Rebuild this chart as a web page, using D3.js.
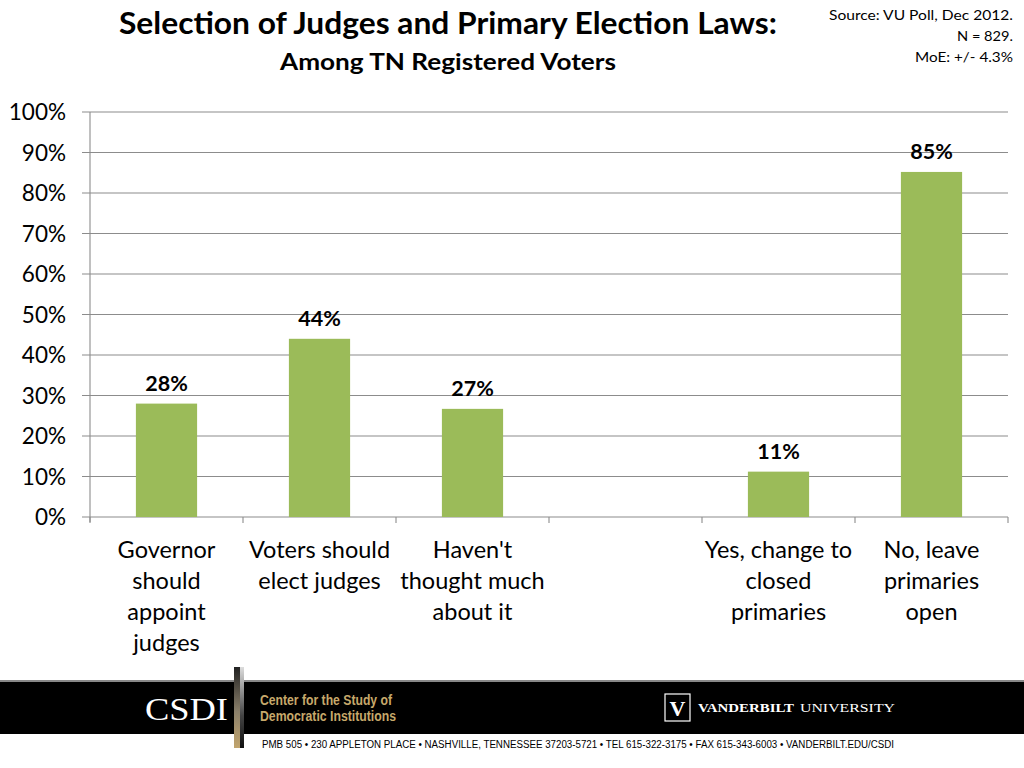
<!DOCTYPE html>
<html><head><meta charset="utf-8">
<script src="https://cdn.jsdelivr.net/npm/d3@7"></script>
<style>body{margin:0;background:#fff}svg{display:block}</style>
</head><body>
<svg id="c" width="1024" height="768"></svg>
<script>
const categories = [
  ["Governor","should","appoint","judges"],
  ["Voters should","elect judges"],
  ["Haven't","thought much","about it"],
  [],
  ["Yes, change to","closed","primaries"],
  ["No, leave","primaries","open"]
];
const values = [28, 44, 26.7, null, 11.2, 85.2];
const valueLabels = ["28%","44%","27%","","11%","85%"];
const yTicks = [0,10,20,30,40,50,60,70,80,90,100];

(function(){
const svg = d3.select("#c");
const font = "Lato, 'Open Sans', sans-serif";
const pL = 90, pR = 1008, pT = 112, pB = 517;
const x = d3.scaleBand().domain(d3.range(categories.length)).range([pL, pR]).paddingInner(0.6).paddingOuter(0.3);
const xs = d3.scaleBand().domain(d3.range(categories.length)).range([pL, pR]);
const y = d3.scaleLinear().domain([0,100]).range([pB, pT]);

svg.append("g").selectAll("line").data(yTicks).join("line")
  .attr("x1", pL-8).attr("x2", pR).attr("y1", d=>y(d)).attr("y2", d=>y(d))
  .attr("stroke", "#8c8c8c").attr("stroke-width", 1.1);
svg.append("line").attr("x1", pL).attr("x2", pL).attr("y1", pT).attr("y2", pB+5)
  .attr("stroke", "#8c8c8c").attr("stroke-width", 1.1);
svg.append("g").selectAll("text").data(yTicks).join("text")
  .attr("x", 66).attr("y", d=>y(d)).attr("dy", "0.36em").attr("text-anchor","end")
  .attr("font-family", font).attr("font-size", 22.5).attr("fill","#000").text(d=>d+"%");
const bounds = d3.range(categories.length+1).map(i => i < categories.length ? xs(i) : pR);
svg.append("g").selectAll("line").data(bounds).join("line")
  .attr("x1", d=>d).attr("x2", d=>d).attr("y1", pB).attr("y2", pB+6)
  .attr("stroke", "#8c8c8c").attr("stroke-width", 1.1);
const vd = values.map((v,i)=>({v,i})).filter(d=>d.v!=null);
svg.append("g").selectAll("rect").data(vd).join("rect")
  .attr("x", d=>x(d.i)).attr("width", x.bandwidth())
  .attr("y", d=>y(d.v)).attr("height", d=>pB-y(d.v)).attr("fill","#9BBB59");
svg.append("g").selectAll("text").data(vd).join("text")
  .attr("x", d=>x(d.i)+x.bandwidth()/2).attr("y", d=>y(d.v)-13).attr("text-anchor","middle")
  .attr("font-family", font).attr("font-weight","bold").attr("font-size", 21.5).attr("fill","#000")
  .text(d=>valueLabels[d.i]);
const cl = svg.append("g").selectAll("text").data(categories).join("text")
  .attr("text-anchor","middle").attr("font-family", font).attr("font-size", 23.5).attr("fill","#000");
cl.each(function(lines,i){
  const t = d3.select(this);
  lines.forEach((l,j)=>t.append("tspan").attr("x", xs(i)+xs.bandwidth()/2).attr("y", 558+j*31).text(l));
});

svg.append("text").attr("x", 448).attr("y", 34).attr("text-anchor","middle")
  .attr("font-family", font).attr("font-weight","bold").attr("font-size", 31).attr("fill","#000")
  .attr("textLength", 658).attr("lengthAdjust","spacingAndGlyphs")
  .text("Selection of Judges and Primary Election Laws:");
svg.append("text").attr("x", 448).attr("y", 70).attr("text-anchor","middle")
  .attr("font-family", font).attr("font-weight","bold").attr("font-size", 22).attr("fill","#000")
  .attr("textLength", 336).attr("lengthAdjust","spacingAndGlyphs")
  .text("Among TN Registered Voters");
const src = ["Source: VU Poll, Dec 2012.","N = 829.","MoE: +/- 4.3%"];
const srcW = [184, 56, 98];
svg.append("g").selectAll("text").data(src).join("text")
  .attr("x", 1013).attr("y", (d,i)=>20+i*21).attr("text-anchor","end")
  .attr("font-family", font).attr("font-size", 14).attr("fill","#000")
  .attr("textLength",(d,i)=>srcW[i]).attr("lengthAdjust","spacingAndGlyphs").text(d=>d);

const defs = svg.append("defs");
const g1 = defs.append("linearGradient").attr("id","vbar").attr("x1",0).attr("y1",0).attr("x2",0).attr("y2",1);
g1.append("stop").attr("offset","0%").attr("stop-color","#222");
g1.append("stop").attr("offset","55%").attr("stop-color","#8a7f6a");
g1.append("stop").attr("offset","100%").attr("stop-color","#c2a56e");
const g2 = defs.append("linearGradient").attr("id","vbar2").attr("x1",0).attr("y1",0).attr("x2",0).attr("y2",1);
g2.append("stop").attr("offset","0%").attr("stop-color","#ddd");
g2.append("stop").attr("offset","60%").attr("stop-color","#444");
g2.append("stop").attr("offset","100%").attr("stop-color","#111");
svg.append("rect").attr("x",0).attr("y",680).attr("width",1024).attr("height",2).attr("fill","#888");
svg.append("rect").attr("x",0).attr("y",682).attr("width",1024).attr("height",52).attr("fill","#000");
svg.append("rect").attr("x",234).attr("y",667).attr("width",6).attr("height",81).attr("fill","url(#vbar)");
svg.append("rect").attr("x",240).attr("y",667).attr("width",4).attr("height",81).attr("fill","url(#vbar2)");
svg.append("text").attr("x",145).attr("y",720).attr("font-family","'Liberation Serif', serif").attr("font-size",31)
  .attr("fill","#fff").attr("textLength",83).attr("lengthAdjust","spacingAndGlyphs").text("CSDI");
svg.append("text").attr("x",260).attr("y",705).attr("font-family","'Liberation Sans', sans-serif").attr("font-weight","bold")
  .attr("font-size",14).attr("fill","#c7a96b").attr("textLength",132).attr("lengthAdjust","spacingAndGlyphs").text("Center for the Study of");
svg.append("text").attr("x",260).attr("y",721).attr("font-family","'Liberation Sans', sans-serif").attr("font-weight","bold")
  .attr("font-size",14).attr("fill","#c7a96b").attr("textLength",136).attr("lengthAdjust","spacingAndGlyphs").text("Democratic Institutions");
svg.append("rect").attr("x",665).attr("y",694).attr("width",25).attr("height",27).attr("fill","none").attr("stroke","#fff").attr("stroke-width",1.2);
svg.append("text").attr("x",677.5).attr("y",716).attr("text-anchor","middle").attr("font-family","'Liberation Serif', serif").attr("font-weight","bold")
  .attr("font-size",22).attr("fill","#fff").text("V");
svg.append("text").attr("x",698).attr("y",712).attr("font-family","'Liberation Serif', serif").attr("font-weight","bold")
  .attr("font-size",13).attr("fill","#fff").attr("textLength",96).attr("lengthAdjust","spacingAndGlyphs").text("VANDERBILT");
svg.append("text").attr("x",800).attr("y",712).attr("font-family","'Liberation Serif', serif")
  .attr("font-size",13).attr("fill","#fff").attr("textLength",95).attr("lengthAdjust","spacingAndGlyphs").text("UNIVERSITY");
svg.append("text").attr("x",262).attr("y",748).attr("font-family","'Liberation Sans Narrow','Liberation Sans', sans-serif")
  .attr("font-size",10).attr("fill","#000").attr("textLength",632).attr("lengthAdjust","spacingAndGlyphs")
  .text("PMB 505 • 230 APPLETON PLACE • NASHVILLE, TENNESSEE 37203-5721 • TEL 615-322-3175 • FAX 615-343-6003 • VANDERBILT.EDU/CSDI");
})();
</script>
</body></html>
